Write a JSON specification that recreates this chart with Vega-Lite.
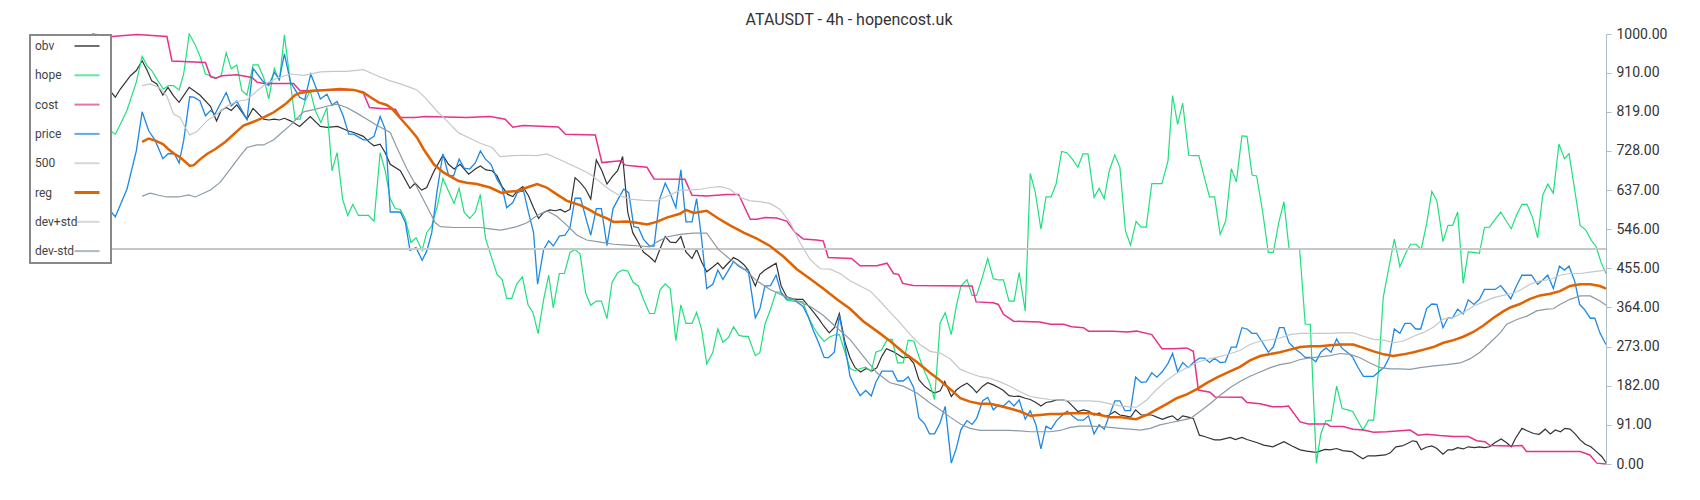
{
"$schema": "https://vega.github.io/schema/vega-lite/v6.json",
"width": 1514, "height": 430,
"autosize": {"type": "none"},
"padding": {"left": 92, "top": 34, "right": 94, "bottom": 36},
"background": "white",
"title": {"text": "ATAUSDT - 4h - hopencost.uk", "fontSize": 16, "font": "Roboto", "fontWeight": "normal", "color": "#333333", "offset": -1, "anchor": "middle"},
"config": {"view": {"stroke": null}, "font": "Roboto"},
"datasets": {
"price": [{"t":0,"v":600},{"t":2,"v":600},{"t":3.6,"v":589},{"t":4.6,"v":575},{"t":6.9,"v":639},{"t":8.75,"v":728},{"t":9.9,"v":819},{"t":11.2,"v":775},{"t":12.5,"v":752},{"t":14,"v":710},{"t":15.1,"v":722},{"t":16.3,"v":721},{"t":17.2,"v":700},{"t":18.1,"v":752},{"t":19.3,"v":854},{"t":20.1,"v":853},{"t":21.3,"v":845},{"t":22.4,"v":810},{"t":23.4,"v":822},{"t":24.3,"v":814},{"t":26.5,"v":864},{"t":27.5,"v":833},{"t":28.6,"v":844},{"t":30.6,"v":801},{"t":31.8,"v":920},{"t":33.9,"v":888},{"t":34.9,"v":880},{"t":36,"v":911},{"t":37,"v":895},{"t":38,"v":954},{"t":39.2,"v":888},{"t":41,"v":853},{"t":42,"v":847},{"t":43.2,"v":907},{"t":45.1,"v":849},{"t":46.4,"v":860},{"t":47.4,"v":835},{"t":48.4,"v":843},{"t":49.6,"v":810},{"t":50.7,"v":767},{"t":51.7,"v":767},{"t":53.6,"v":754},{"t":54.6,"v":754},{"t":55.7,"v":762},{"t":56.9,"v":808},{"t":57.9,"v":779},{"t":58.9,"v":586},{"t":60.9,"v":586},{"t":61.9,"v":561},{"t":62.8,"v":497},{"t":64,"v":503},{"t":65.2,"v":474},{"t":66.1,"v":495},{"t":67.1,"v":538},{"t":68.1,"v":631},{"t":69.3,"v":721},{"t":70.4,"v":672},{"t":71.4,"v":670},{"t":72.5,"v":709},{"t":73.5,"v":688},{"t":74.6,"v":686},{"t":75.7,"v":700},{"t":76.7,"v":728},{"t":77.7,"v":709},{"t":78.8,"v":697},{"t":80,"v":662},{"t":81,"v":643},{"t":81.9,"v":596},{"t":83.1,"v":608},{"t":84,"v":631},{"t":85.2,"v":637},{"t":86.2,"v":585},{"t":87.2,"v":538},{"t":88,"v":418},{"t":89.2,"v":499},{"t":90.2,"v":519},{"t":91.1,"v":507},{"t":92.3,"v":530},{"t":93.4,"v":532},{"t":94.4,"v":550},{"t":95.4,"v":618},{"t":96.5,"v":618},{"t":97.7,"v":565},{"t":98.5,"v":532},{"t":99.6,"v":594},{"t":100.6,"v":594},{"t":101.7,"v":508},{"t":102.9,"v":594},{"t":103.9,"v":616},{"t":105,"v":639},{"t":106,"v":631},{"t":107,"v":552},{"t":107.9,"v":550},{"t":108.9,"v":523},{"t":110.1,"v":507},{"t":111,"v":507},{"t":112.1,"v":616},{"t":113.2,"v":653},{"t":114.2,"v":629},{"t":115.3,"v":596},{"t":116.3,"v":684},{"t":117.3,"v":563},{"t":118.5,"v":563},{"t":119.4,"v":617},{"t":120.4,"v":523},{"t":121.4,"v":408},{"t":122.6,"v":418},{"t":123.6,"v":451},{"t":124.6,"v":429},{"t":125.7,"v":451},{"t":126.7,"v":471},{"t":127.7,"v":460},{"t":128.7,"v":453},{"t":129.6,"v":451},{"t":131,"v":340},{"t":131.9,"v":361},{"t":132.9,"v":414},{"t":134,"v":415},{"t":135.1,"v":439},{"t":136.1,"v":398},{"t":137.2,"v":384},{"t":138.4,"v":383},{"t":139.4,"v":375},{"t":140.4,"v":367},{"t":141.4,"v":344},{"t":142.5,"v":309},{"t":143.5,"v":282},{"t":144.6,"v":248},{"t":145.4,"v":247},{"t":146.6,"v":260},{"t":147.6,"v":346},{"t":148.7,"v":274},{"t":149.7,"v":204},{"t":150.6,"v":182},{"t":151.7,"v":159},{"t":152.8,"v":171},{"t":153.9,"v":158},{"t":154.8,"v":190},{"t":156,"v":216},{"t":156.9,"v":216},{"t":158.1,"v":216},{"t":159.1,"v":193},{"t":160.2,"v":193},{"t":161.2,"v":203},{"t":162.3,"v":177},{"t":163.3,"v":107},{"t":164.4,"v":94},{"t":165.4,"v":70},{"t":166.4,"v":70},{"t":167.5,"v":96},{"t":168.5,"v":134},{"t":169.7,"v":2},{"t":170.7,"v":37},{"t":171.6,"v":80},{"t":172.8,"v":101},{"t":173.8,"v":92},{"t":174.7,"v":106},{"t":175.9,"v":147},{"t":176.9,"v":155},{"t":178,"v":126},{"t":179,"v":137},{"t":180,"v":135},{"t":181.1,"v":147},{"t":182.1,"v":135},{"t":183.1,"v":149},{"t":184.3,"v":104},{"t":185.3,"v":124},{"t":186.4,"v":92},{"t":187.4,"v":35},{"t":188.4,"v":88},{"t":189.4,"v":81},{"t":190.5,"v":101},{"t":191.5,"v":112},{"t":192.6,"v":123},{"t":193.6,"v":112},{"t":194.7,"v":102},{"t":195.8,"v":102},{"t":196.8,"v":112},{"t":197.9,"v":70},{"t":198.9,"v":91},{"t":199.9,"v":81},{"t":200.9,"v":112},{"t":202,"v":147},{"t":203,"v":147},{"t":204,"v":124},{"t":205.1,"v":124},{"t":206.1,"v":202},{"t":207.2,"v":190},{"t":208.2,"v":191},{"t":209.3,"v":212},{"t":210.3,"v":202},{"t":211.4,"v":215},{"t":212.5,"v":234},{"t":213.4,"v":257},{"t":214.4,"v":215},{"t":215.4,"v":236},{"t":216.5,"v":224},{"t":217.5,"v":236},{"t":218.7,"v":246},{"t":219.7,"v":246},{"t":220.7,"v":236},{"t":221.7,"v":246},{"t":222.8,"v":236},{"t":223.8,"v":237},{"t":225,"v":272},{"t":226,"v":272},{"t":227.1,"v":317},{"t":228.1,"v":314},{"t":229.1,"v":304},{"t":230,"v":304},{"t":231.2,"v":282},{"t":232.3,"v":260},{"t":233.3,"v":272},{"t":234.5,"v":317},{"t":235.4,"v":317},{"t":236.4,"v":282},{"t":237.4,"v":270},{"t":238.6,"v":259},{"t":239.6,"v":248},{"t":240.6,"v":248},{"t":241.7,"v":238},{"t":242.7,"v":260},{"t":243.7,"v":270},{"t":244.7,"v":260},{"t":245.8,"v":291},{"t":246.8,"v":270},{"t":248,"v":259},{"t":249,"v":248},{"t":250,"v":225},{"t":251.1,"v":204},{"t":252.1,"v":204},{"t":253.1,"v":204},{"t":254.3,"v":216},{"t":255.2,"v":225},{"t":256.2,"v":248},{"t":257.2,"v":314},{"t":258.3,"v":304},{"t":259.3,"v":327},{"t":260.4,"v":327},{"t":261.4,"v":314},{"t":262.4,"v":314},{"t":263.6,"v":362},{"t":264.6,"v":372},{"t":265.6,"v":371},{"t":266.8,"v":317},{"t":267.8,"v":340},{"t":268.7,"v":340},{"t":269.7,"v":360},{"t":270.8,"v":349},{"t":271.8,"v":382},{"t":272.9,"v":371},{"t":274,"v":383},{"t":275,"v":406},{"t":276,"v":406},{"t":277.1,"v":406},{"t":278.2,"v":415},{"t":279.2,"v":400},{"t":280.2,"v":384},{"t":281.3,"v":414},{"t":282.4,"v":439},{"t":283.4,"v":439},{"t":284.3,"v":439},{"t":285.5,"v":418},{"t":286.5,"v":428},{"t":287.5,"v":439},{"t":288.6,"v":408},{"t":289.8,"v":460},{"t":290.8,"v":451},{"t":291.7,"v":460},{"t":292.8,"v":426},{"t":293.8,"v":371},{"t":294.7,"v":360},{"t":295.9,"v":339},{"t":296.8,"v":339},{"t":297.8,"v":305},{"t":298.8,"v":282},{"t":299,"v":278}],
"obv": [{"t":0,"v":880},{"t":2,"v":870},{"t":3.6,"v":868},{"t":4.6,"v":853},{"t":5.6,"v":872},{"t":7.6,"v":903},{"t":8.75,"v":915},{"t":9.9,"v":938},{"t":10.9,"v":915},{"t":11.8,"v":891},{"t":12.8,"v":884},{"t":14,"v":858},{"t":15,"v":876},{"t":16.1,"v":856},{"t":17.2,"v":841},{"t":19.2,"v":876},{"t":21.3,"v":858},{"t":23.4,"v":832},{"t":24.6,"v":798},{"t":25.5,"v":822},{"t":26.5,"v":829},{"t":27.5,"v":822},{"t":28.6,"v":835},{"t":30.6,"v":802},{"t":31.8,"v":827},{"t":33.9,"v":802},{"t":34.9,"v":800},{"t":36,"v":802},{"t":37,"v":800},{"t":38,"v":804},{"t":39.2,"v":798},{"t":41,"v":785},{"t":43.1,"v":808},{"t":45.1,"v":785},{"t":46.4,"v":783},{"t":48.5,"v":785},{"t":50.5,"v":775},{"t":51.7,"v":771},{"t":53.6,"v":762},{"t":54.8,"v":748},{"t":55.7,"v":740},{"t":56.9,"v":744},{"t":57.9,"v":724},{"t":58.9,"v":697},{"t":60.9,"v":682},{"t":62.8,"v":641},{"t":63.8,"v":653},{"t":65.1,"v":637},{"t":66.1,"v":643},{"t":67.5,"v":680},{"t":69.3,"v":718},{"t":70.4,"v":697},{"t":71.5,"v":686},{"t":72.7,"v":697},{"t":74.4,"v":674},{"t":75.7,"v":686},{"t":76.7,"v":693},{"t":77.8,"v":684},{"t":79,"v":682},{"t":80,"v":670},{"t":81,"v":645},{"t":82.1,"v":627},{"t":83.1,"v":622},{"t":84.1,"v":637},{"t":85.1,"v":645},{"t":86.2,"v":624},{"t":87.2,"v":596},{"t":88.2,"v":571},{"t":89.2,"v":585},{"t":90.4,"v":591},{"t":91.5,"v":589},{"t":92.5,"v":592},{"t":93.4,"v":586},{"t":94.4,"v":592},{"t":95.4,"v":666},{"t":96.4,"v":655},{"t":97.5,"v":639},{"t":98.5,"v":616},{"t":99.6,"v":707},{"t":100.7,"v":682},{"t":101.7,"v":651},{"t":102.8,"v":669},{"t":103.8,"v":682},{"t":104.8,"v":715},{"t":105.8,"v":586},{"t":106.8,"v":538},{"t":107.9,"v":515},{"t":108.9,"v":493},{"t":110.1,"v":482},{"t":111.2,"v":470},{"t":112.2,"v":501},{"t":113.2,"v":529},{"t":114.2,"v":516},{"t":115.3,"v":515},{"t":116.3,"v":529},{"t":117.3,"v":493},{"t":118.5,"v":478},{"t":119.4,"v":499},{"t":120.4,"v":470},{"t":121.4,"v":447},{"t":122.6,"v":458},{"t":123.6,"v":468},{"t":124.6,"v":454},{"t":125.7,"v":468},{"t":126.7,"v":480},{"t":127.7,"v":474},{"t":128.7,"v":464},{"t":129.6,"v":451},{"t":131,"v":414},{"t":131.9,"v":441},{"t":132.9,"v":451},{"t":134,"v":459},{"t":135.1,"v":467},{"t":136.1,"v":414},{"t":137.2,"v":389},{"t":138.4,"v":384},{"t":139.4,"v":383},{"t":140.4,"v":383},{"t":141.4,"v":369},{"t":142.5,"v":353},{"t":143.5,"v":338},{"t":144.5,"v":321},{"t":145.6,"v":305},{"t":146.6,"v":317},{"t":147.6,"v":350},{"t":148.7,"v":283},{"t":149.7,"v":247},{"t":150.7,"v":224},{"t":151.8,"v":214},{"t":152.9,"v":222},{"t":154,"v":216},{"t":155,"v":224},{"t":156,"v":251},{"t":156.9,"v":268},{"t":158.1,"v":262},{"t":159.1,"v":255},{"t":160.2,"v":247},{"t":161.2,"v":249},{"t":162.3,"v":234},{"t":163.3,"v":196},{"t":164.4,"v":181},{"t":165.4,"v":172},{"t":166.4,"v":165},{"t":167.5,"v":170},{"t":168.4,"v":192},{"t":169.7,"v":157},{"t":170.7,"v":172},{"t":171.6,"v":180},{"t":172.8,"v":188},{"t":173.8,"v":178},{"t":174.7,"v":166},{"t":175.9,"v":181},{"t":176.9,"v":189},{"t":178,"v":184},{"t":179,"v":178},{"t":180,"v":171},{"t":181.1,"v":159},{"t":182.1,"v":157},{"t":183.1,"v":158},{"t":184.3,"v":153},{"t":185.3,"v":150},{"t":186.4,"v":143},{"t":187.4,"v":135},{"t":188.4,"v":143},{"t":189.4,"v":145},{"t":190.5,"v":149},{"t":191.5,"v":149},{"t":192.6,"v":147},{"t":193.6,"v":135},{"t":194.7,"v":122},{"t":195.8,"v":126},{"t":196.8,"v":123},{"t":197.9,"v":114},{"t":198.9,"v":119},{"t":199.9,"v":110},{"t":200.9,"v":114},{"t":202,"v":122},{"t":203,"v":114},{"t":204,"v":112},{"t":205.1,"v":109},{"t":206.1,"v":126},{"t":207.2,"v":114},{"t":208.2,"v":114},{"t":209.3,"v":114},{"t":210.3,"v":109},{"t":211.4,"v":104},{"t":212.5,"v":109},{"t":213.4,"v":112},{"t":214.4,"v":102},{"t":215.4,"v":112},{"t":216.5,"v":109},{"t":217.5,"v":106},{"t":218.7,"v":67},{"t":219.7,"v":64},{"t":220.7,"v":60},{"t":221.7,"v":56},{"t":222.8,"v":56},{"t":224.8,"v":62},{"t":225.8,"v":57},{"t":227.1,"v":62},{"t":228.1,"v":57},{"t":230,"v":50},{"t":231.4,"v":44},{"t":233.2,"v":40},{"t":235.4,"v":52},{"t":237,"v":42},{"t":238.6,"v":33},{"t":239.9,"v":30},{"t":241.8,"v":27},{"t":243.5,"v":34},{"t":244.5,"v":33},{"t":245.8,"v":36},{"t":247,"v":31},{"t":248.8,"v":29},{"t":249.8,"v":21},{"t":251,"v":12},{"t":252,"v":19},{"t":253.4,"v":19},{"t":255.4,"v":21},{"t":256.4,"v":26},{"t":257.5,"v":40},{"t":258.7,"v":42},{"t":259.7,"v":47},{"t":260.8,"v":54},{"t":261.6,"v":52},{"t":262.5,"v":33},{"t":263.5,"v":39},{"t":264.6,"v":42},{"t":265.6,"v":36},{"t":266.8,"v":23},{"t":267.8,"v":33},{"t":268.7,"v":33},{"t":269.7,"v":38},{"t":270.8,"v":35},{"t":271.8,"v":40},{"t":273,"v":38},{"t":274,"v":40},{"t":275,"v":38},{"t":276,"v":40},{"t":277.1,"v":50},{"t":278.3,"v":58},{"t":279.3,"v":50},{"t":280.3,"v":40},{"t":281.2,"v":61},{"t":282.4,"v":83},{"t":283.3,"v":78},{"t":284.7,"v":71},{"t":285.8,"v":69},{"t":287,"v":81},{"t":288,"v":70},{"t":289,"v":79},{"t":290,"v":75},{"t":290.9,"v":83},{"t":291.9,"v":81},{"t":292.9,"v":70},{"t":293.9,"v":56},{"t":294.9,"v":46},{"t":296,"v":40},{"t":297,"v":30},{"t":298.2,"v":17},{"t":299,"v":3}],
"hope": [{"t":0,"v":770},{"t":2,"v":770},{"t":3.6,"v":775},{"t":4.6,"v":767},{"t":5.6,"v":790},{"t":6.9,"v":822},{"t":8.75,"v":888},{"t":9.9,"v":948},{"t":10.9,"v":926},{"t":11.8,"v":915},{"t":12.8,"v":895},{"t":14.1,"v":872},{"t":15.1,"v":880},{"t":16.1,"v":880},{"t":17.2,"v":870},{"t":18.1,"v":907},{"t":19.2,"v":1000},{"t":20.3,"v":977},{"t":21.4,"v":946},{"t":22.4,"v":907},{"t":23.4,"v":903},{"t":24.5,"v":897},{"t":25.5,"v":903},{"t":26.5,"v":956},{"t":27.5,"v":919},{"t":28.6,"v":928},{"t":29.6,"v":868},{"t":30.6,"v":858},{"t":31.8,"v":928},{"t":32.8,"v":928},{"t":33.9,"v":899},{"t":34.9,"v":849},{"t":36,"v":920},{"t":37,"v":891},{"t":38,"v":998},{"t":39,"v":903},{"t":40.1,"v":802},{"t":41.1,"v":802},{"t":42.1,"v":845},{"t":43.1,"v":868},{"t":44.1,"v":822},{"t":45.2,"v":794},{"t":46.4,"v":829},{"t":47.4,"v":682},{"t":48.4,"v":724},{"t":49.5,"v":616},{"t":50.5,"v":578},{"t":51.5,"v":604},{"t":52.6,"v":578},{"t":54.6,"v":578},{"t":55.7,"v":565},{"t":56.9,"v":724},{"t":57.9,"v":682},{"t":58.9,"v":616},{"t":59.9,"v":594},{"t":60.9,"v":592},{"t":61.9,"v":569},{"t":63,"v":515},{"t":64,"v":526},{"t":65.2,"v":497},{"t":66.1,"v":538},{"t":67.1,"v":554},{"t":68.2,"v":600},{"t":69.3,"v":664},{"t":70.4,"v":635},{"t":71.5,"v":606},{"t":72.5,"v":641},{"t":73.5,"v":585},{"t":74.6,"v":571},{"t":75.7,"v":586},{"t":76.7,"v":627},{"t":77.7,"v":526},{"t":78.8,"v":484},{"t":80,"v":441},{"t":81,"v":429},{"t":81.9,"v":385},{"t":82.9,"v":385},{"t":83.9,"v":419},{"t":85,"v":435},{"t":86.1,"v":371},{"t":87.1,"v":352},{"t":88.1,"v":303},{"t":89.2,"v":383},{"t":90.2,"v":439},{"t":91.1,"v":363},{"t":92.3,"v":443},{"t":93.3,"v":443},{"t":94.4,"v":492},{"t":95.4,"v":499},{"t":96.4,"v":488},{"t":97.5,"v":397},{"t":98.5,"v":369},{"t":99.6,"v":379},{"t":100.6,"v":379},{"t":101.7,"v":338},{"t":102.7,"v":422},{"t":103.8,"v":445},{"t":104.8,"v":451},{"t":105.8,"v":449},{"t":106.9,"v":422},{"t":107.9,"v":414},{"t":108.9,"v":383},{"t":110.1,"v":350},{"t":111.1,"v":350},{"t":112.2,"v":405},{"t":113.2,"v":419},{"t":114.2,"v":408},{"t":115.3,"v":287},{"t":116.3,"v":370},{"t":117.3,"v":327},{"t":118.5,"v":327},{"t":119.4,"v":353},{"t":120.4,"v":313},{"t":121.4,"v":233},{"t":122.6,"v":259},{"t":123.6,"v":314},{"t":124.6,"v":283},{"t":125.7,"v":294},{"t":126.7,"v":319},{"t":127.8,"v":299},{"t":128.7,"v":297},{"t":129.6,"v":297},{"t":131,"v":252},{"t":131.9,"v":259},{"t":132.9,"v":325},{"t":134,"v":360},{"t":135.1,"v":400},{"t":136.1,"v":400},{"t":137.2,"v":381},{"t":138.4,"v":379},{"t":139.4,"v":379},{"t":140.4,"v":377},{"t":141.4,"v":344},{"t":142.5,"v":318},{"t":143.5,"v":300},{"t":144.6,"v":285},{"t":145.6,"v":295},{"t":146.6,"v":300},{"t":147.6,"v":301},{"t":148.7,"v":260},{"t":149.7,"v":222},{"t":150.7,"v":217},{"t":151.8,"v":222},{"t":152.8,"v":225},{"t":153.9,"v":215},{"t":154.8,"v":260},{"t":155.9,"v":265},{"t":157,"v":288},{"t":158,"v":290},{"t":159.1,"v":235},{"t":160.2,"v":235},{"t":161.2,"v":288},{"t":162.3,"v":286},{"t":163.3,"v":250},{"t":164.4,"v":216},{"t":165.4,"v":189},{"t":166.4,"v":150},{"t":167.5,"v":328},{"t":168.5,"v":352},{"t":169.7,"v":301},{"t":170.7,"v":367},{"t":171.6,"v":414},{"t":172.8,"v":429},{"t":173.8,"v":392},{"t":174.7,"v":392},{"t":175.9,"v":437},{"t":176.9,"v":478},{"t":178,"v":431},{"t":179,"v":428},{"t":180,"v":428},{"t":181.1,"v":379},{"t":182.1,"v":379},{"t":183.1,"v":445},{"t":184.3,"v":356},{"t":185.3,"v":676},{"t":186.3,"v":631},{"t":187.4,"v":546},{"t":188.4,"v":621},{"t":189.4,"v":621},{"t":190.4,"v":651},{"t":191.5,"v":727},{"t":192.5,"v":724},{"t":193.6,"v":709},{"t":194.7,"v":690},{"t":195.7,"v":721},{"t":196.7,"v":721},{"t":197.9,"v":620},{"t":198.9,"v":641},{"t":199.9,"v":617},{"t":200.9,"v":682},{"t":202,"v":719},{"t":203,"v":690},{"t":204.1,"v":542},{"t":205.1,"v":509},{"t":206.2,"v":564},{"t":207.2,"v":551},{"t":208.2,"v":551},{"t":209.3,"v":652},{"t":210.3,"v":652},{"t":211.3,"v":652},{"t":212.5,"v":705},{"t":213.4,"v":857},{"t":214.4,"v":790},{"t":215.4,"v":839},{"t":216.6,"v":718},{"t":217.5,"v":717},{"t":218.6,"v":717},{"t":219.6,"v":670},{"t":220.7,"v":621},{"t":221.7,"v":621},{"t":222.8,"v":534},{"t":223.9,"v":565},{"t":225,"v":687},{"t":226,"v":656},{"t":227.1,"v":763},{"t":228.1,"v":762},{"t":229.1,"v":672},{"t":230,"v":670},{"t":231.2,"v":586},{"t":232.3,"v":492},{"t":233.3,"v":492},{"t":234.4,"v":563},{"t":235.4,"v":610},{"t":236.4,"v":501},{"t":237.4,"v":501},{"t":238.5,"v":499},{"t":239.6,"v":325},{"t":240.6,"v":325},{"t":241.8,"v":2},{"t":242.7,"v":71},{"t":243.7,"v":101},{"t":244.7,"v":101},{"t":245.8,"v":181},{"t":246.9,"v":129},{"t":248,"v":126},{"t":249,"v":122},{"t":250,"v":100},{"t":251,"v":79},{"t":252.1,"v":102},{"t":253.1,"v":102},{"t":254.1,"v":220},{"t":255,"v":387},{"t":256,"v":449},{"t":257.2,"v":523},{"t":258.3,"v":459},{"t":259.5,"v":492},{"t":260.4,"v":511},{"t":261.5,"v":511},{"t":262.5,"v":499},{"t":263.6,"v":560},{"t":264.6,"v":634},{"t":265.6,"v":612},{"t":266.8,"v":517},{"t":267.8,"v":555},{"t":268.7,"v":555},{"t":269.7,"v":586},{"t":270.8,"v":420},{"t":271.8,"v":493},{"t":272.9,"v":492},{"t":274,"v":490},{"t":275,"v":550},{"t":276,"v":551},{"t":277.1,"v":569},{"t":278.2,"v":586},{"t":279.3,"v":565},{"t":280.3,"v":547},{"t":281.3,"v":578},{"t":282.4,"v":604},{"t":283.4,"v":604},{"t":284.5,"v":573},{"t":285.5,"v":526},{"t":286.5,"v":625},{"t":287.5,"v":651},{"t":288.6,"v":630},{"t":289.7,"v":744},{"t":290.8,"v":710},{"t":291.7,"v":722},{"t":292.8,"v":639},{"t":293.9,"v":555},{"t":295,"v":544},{"t":296.1,"v":520},{"t":297,"v":507},{"t":298,"v":470},{"t":299,"v":443}],
"cost": [{"t":0,"v":1000},{"t":3.95,"v":994},{"t":8.9,"v":999},{"t":14.8,"v":994},{"t":15.8,"v":937},{"t":22.4,"v":934},{"t":23.4,"v":901},{"t":24.4,"v":897},{"t":25.7,"v":903},{"t":28.6,"v":905},{"t":31.6,"v":899},{"t":32.6,"v":888},{"t":33.9,"v":885},{"t":39.8,"v":885},{"t":41.1,"v":868},{"t":47.7,"v":870},{"t":51.7,"v":870},{"t":53.6,"v":863},{"t":54.8,"v":829},{"t":57,"v":827},{"t":59.9,"v":825},{"t":60.9,"v":806},{"t":63.8,"v":806},{"t":65.8,"v":808},{"t":74,"v":806},{"t":78.6,"v":808},{"t":81.6,"v":802},{"t":83.1,"v":783},{"t":85.2,"v":787},{"t":92.1,"v":784},{"t":93.5,"v":767},{"t":99.4,"v":765},{"t":100.7,"v":701},{"t":104.4,"v":705},{"t":105.3,"v":695},{"t":106.9,"v":693},{"t":109.6,"v":690},{"t":111,"v":663},{"t":117.1,"v":662},{"t":118.5,"v":625},{"t":121.4,"v":623},{"t":125.4,"v":627},{"t":127.7,"v":627},{"t":130,"v":569},{"t":131.3,"v":569},{"t":132.9,"v":573},{"t":135.2,"v":572},{"t":137.2,"v":565},{"t":138.9,"v":538},{"t":140.5,"v":523},{"t":143.1,"v":521},{"t":144.4,"v":519},{"t":145.4,"v":480},{"t":150,"v":478},{"t":151.7,"v":461},{"t":155,"v":461},{"t":157,"v":467},{"t":158.3,"v":443},{"t":159.3,"v":441},{"t":160.1,"v":420},{"t":162.2,"v":415},{"t":173.8,"v":414},{"t":174.6,"v":377},{"t":178,"v":375},{"t":179,"v":371},{"t":180,"v":348},{"t":182,"v":332},{"t":187.2,"v":330},{"t":189.3,"v":325},{"t":191.9,"v":325},{"t":193.5,"v":319},{"t":195.8,"v":317},{"t":196.8,"v":309},{"t":201.7,"v":309},{"t":204.4,"v":307},{"t":206.3,"v":309},{"t":209.3,"v":301},{"t":211.3,"v":268},{"t":213.6,"v":268},{"t":216.2,"v":270},{"t":217.5,"v":262},{"t":218.5,"v":172},{"t":220.8,"v":167},{"t":221.8,"v":156},{"t":227.1,"v":155},{"t":228.1,"v":143},{"t":230.7,"v":140},{"t":233.2,"v":133},{"t":235,"v":133},{"t":236.3,"v":135},{"t":238.6,"v":98},{"t":240.2,"v":93},{"t":243.9,"v":93},{"t":244.5,"v":88},{"t":247.1,"v":87},{"t":249.1,"v":81},{"t":251.1,"v":79},{"t":253.1,"v":74},{"t":255.7,"v":75},{"t":260.3,"v":79},{"t":261.9,"v":67},{"t":263.6,"v":69},{"t":266.2,"v":66},{"t":268.9,"v":64},{"t":271.8,"v":64},{"t":273.5,"v":54},{"t":275.1,"v":52},{"t":276.1,"v":43},{"t":280.1,"v":42},{"t":282.4,"v":43},{"t":283.3,"v":29},{"t":293.9,"v":29},{"t":295.8,"v":21},{"t":297.2,"v":2},{"t":299,"v":0}],
"reg": [{"t":9.9,"v":749},{"t":11.2,"v":757},{"t":12.5,"v":752},{"t":14,"v":744},{"t":15.1,"v":732},{"t":16.3,"v":721},{"t":17.2,"v":715},{"t":18.4,"v":703},{"t":19.3,"v":693},{"t":20.1,"v":695},{"t":21.4,"v":709},{"t":22.7,"v":721},{"t":24.3,"v":732},{"t":26.3,"v":749},{"t":28,"v":767},{"t":29.9,"v":787},{"t":31.9,"v":796},{"t":33.9,"v":806},{"t":35.9,"v":818},{"t":38.2,"v":837},{"t":40.1,"v":858},{"t":41.1,"v":863},{"t":43.8,"v":868},{"t":46.4,"v":870},{"t":49,"v":872},{"t":51.7,"v":870},{"t":53.6,"v":864},{"t":55,"v":853},{"t":56.6,"v":841},{"t":58.2,"v":835},{"t":59.2,"v":827},{"t":60.9,"v":804},{"t":62.8,"v":779},{"t":64.2,"v":759},{"t":65.5,"v":732},{"t":67.5,"v":697},{"t":69.4,"v":678},{"t":72.4,"v":658},{"t":74,"v":654},{"t":76,"v":651},{"t":78.6,"v":643},{"t":81,"v":630},{"t":82,"v":633},{"t":83.9,"v":635},{"t":85.9,"v":643},{"t":87.9,"v":651},{"t":89.8,"v":643},{"t":91.8,"v":627},{"t":93.8,"v":612},{"t":96.4,"v":602},{"t":98.1,"v":592},{"t":99.7,"v":581},{"t":101.7,"v":571},{"t":103,"v":563},{"t":105.6,"v":564},{"t":107.6,"v":561},{"t":109.6,"v":557},{"t":111.5,"v":563},{"t":113.5,"v":573},{"t":116.1,"v":582},{"t":117.3,"v":591},{"t":118.8,"v":584},{"t":121.4,"v":589},{"t":123.7,"v":571},{"t":126,"v":555},{"t":128.7,"v":538},{"t":131.3,"v":524},{"t":133.9,"v":507},{"t":136.6,"v":482},{"t":139.2,"v":453},{"t":141.8,"v":431},{"t":144.4,"v":408},{"t":147.1,"v":383},{"t":149.7,"v":361},{"t":152.3,"v":332},{"t":155,"v":309},{"t":157.6,"v":286},{"t":160.2,"v":260},{"t":162.9,"v":237},{"t":165.5,"v":212},{"t":167.5,"v":194},{"t":169.5,"v":174},{"t":171.5,"v":153},{"t":173.4,"v":145},{"t":175.4,"v":140},{"t":177.4,"v":140},{"t":179.3,"v":135},{"t":181.3,"v":129},{"t":183.3,"v":122},{"t":185.3,"v":112},{"t":187.2,"v":114},{"t":189.2,"v":116},{"t":191.2,"v":116},{"t":193.2,"v":118},{"t":195.1,"v":118},{"t":197.1,"v":118},{"t":199.1,"v":114},{"t":201.1,"v":109},{"t":203,"v":109},{"t":205,"v":106},{"t":206.2,"v":104},{"t":208.3,"v":114},{"t":210.3,"v":127},{"t":212.3,"v":140},{"t":214.2,"v":153},{"t":216.2,"v":162},{"t":218.2,"v":174},{"t":220.1,"v":188},{"t":222.1,"v":201},{"t":224.1,"v":212},{"t":226.7,"v":226},{"t":228.7,"v":241},{"t":230.7,"v":251},{"t":232.7,"v":256},{"t":234.6,"v":260},{"t":236.6,"v":266},{"t":238.6,"v":272},{"t":240.6,"v":274},{"t":242.5,"v":274},{"t":244.5,"v":276},{"t":246.5,"v":278},{"t":249.1,"v":278},{"t":251.1,"v":270},{"t":253.1,"v":262},{"t":255.1,"v":255},{"t":257,"v":251},{"t":259,"v":255},{"t":261,"v":260},{"t":263,"v":266},{"t":264.9,"v":272},{"t":266.9,"v":282},{"t":268.9,"v":288},{"t":270.8,"v":296},{"t":272.8,"v":307},{"t":274.8,"v":322},{"t":276.8,"v":340},{"t":278.7,"v":355},{"t":280.1,"v":364},{"t":282,"v":372},{"t":284,"v":384},{"t":286,"v":392},{"t":288,"v":396},{"t":289.9,"v":402},{"t":291.9,"v":414},{"t":293.9,"v":418},{"t":295.9,"v":418},{"t":297.8,"v":414},{"t":299,"v":408}],
"devp": [{"t":9.9,"v":880},{"t":11.5,"v":884},{"t":13.2,"v":876},{"t":14.8,"v":855},{"t":16.1,"v":814},{"t":17.4,"v":806},{"t":18.4,"v":783},{"t":19.3,"v":765},{"t":20.7,"v":773},{"t":22.7,"v":798},{"t":24.7,"v":814},{"t":26.6,"v":832},{"t":28.6,"v":843},{"t":30.6,"v":847},{"t":32.6,"v":868},{"t":34.6,"v":886},{"t":36.5,"v":897},{"t":39.2,"v":907},{"t":41.8,"v":904},{"t":45.1,"v":912},{"t":47.7,"v":913},{"t":50.3,"v":913},{"t":53.6,"v":917},{"t":56.3,"v":903},{"t":58.9,"v":891},{"t":60.9,"v":884},{"t":62.8,"v":876},{"t":64.2,"v":870},{"t":66.1,"v":848},{"t":68.1,"v":821},{"t":70.1,"v":798},{"t":72.4,"v":770},{"t":74.7,"v":757},{"t":76.7,"v":746},{"t":79,"v":736},{"t":80.6,"v":715},{"t":83.2,"v":717},{"t":85.2,"v":718},{"t":87.9,"v":717},{"t":89.8,"v":721},{"t":91.8,"v":711},{"t":93.8,"v":700},{"t":96.4,"v":686},{"t":98.4,"v":674},{"t":100.4,"v":655},{"t":102.3,"v":637},{"t":104.3,"v":624},{"t":106.3,"v":616},{"t":108.9,"v":613},{"t":111.5,"v":612},{"t":113.5,"v":622},{"t":116.2,"v":637},{"t":118.1,"v":637},{"t":120.1,"v":639},{"t":122.1,"v":643},{"t":124.1,"v":645},{"t":126,"v":639},{"t":128,"v":620},{"t":130,"v":612},{"t":131.9,"v":610},{"t":133.9,"v":606},{"t":135.9,"v":592},{"t":137.9,"v":561},{"t":139.8,"v":515},{"t":141.8,"v":476},{"t":143.8,"v":454},{"t":145.8,"v":453},{"t":147.7,"v":443},{"t":149.7,"v":426},{"t":151.7,"v":414},{"t":153.7,"v":402},{"t":155.6,"v":379},{"t":157.6,"v":353},{"t":159.6,"v":328},{"t":161.6,"v":301},{"t":163.5,"v":278},{"t":165.5,"v":262},{"t":167.5,"v":258},{"t":169.5,"v":244},{"t":171.5,"v":220},{"t":173.4,"v":211},{"t":175.4,"v":203},{"t":177.4,"v":199},{"t":179.3,"v":191},{"t":181.3,"v":181},{"t":183.3,"v":168},{"t":185.3,"v":157},{"t":187.2,"v":153},{"t":189.2,"v":150},{"t":191.2,"v":149},{"t":193.2,"v":147},{"t":195.1,"v":147},{"t":197.1,"v":147},{"t":199.1,"v":145},{"t":201.1,"v":140},{"t":203,"v":135},{"t":205,"v":133},{"t":206.3,"v":132},{"t":208.3,"v":149},{"t":210.3,"v":174},{"t":212.3,"v":195},{"t":214.2,"v":211},{"t":216.2,"v":224},{"t":218.2,"v":236},{"t":220.1,"v":243},{"t":222.1,"v":248},{"t":224.1,"v":254},{"t":226.7,"v":264},{"t":228.7,"v":278},{"t":230.7,"v":286},{"t":232.7,"v":289},{"t":234.6,"v":293},{"t":236.6,"v":301},{"t":238.6,"v":304},{"t":240.6,"v":304},{"t":242.5,"v":304},{"t":244.5,"v":304},{"t":246.5,"v":305},{"t":249.1,"v":305},{"t":251.1,"v":297},{"t":253.1,"v":290},{"t":255.1,"v":288},{"t":257,"v":282},{"t":259,"v":286},{"t":261,"v":297},{"t":263,"v":306},{"t":264.9,"v":318},{"t":266.9,"v":337},{"t":268.9,"v":341},{"t":270.8,"v":352},{"t":272.8,"v":367},{"t":274.8,"v":377},{"t":276.8,"v":387},{"t":278.7,"v":392},{"t":280.7,"v":397},{"t":282,"v":404},{"t":284,"v":418},{"t":286,"v":426},{"t":288,"v":429},{"t":289.9,"v":439},{"t":291.9,"v":443},{"t":293.9,"v":443},{"t":295.9,"v":446},{"t":297.8,"v":449},{"t":299,"v":451}],
"devm": [{"t":9.9,"v":623},{"t":11.5,"v":630},{"t":13.2,"v":625},{"t":14.8,"v":621},{"t":17.1,"v":621},{"t":19.1,"v":626},{"t":20.4,"v":621},{"t":23.4,"v":637},{"t":25.3,"v":655},{"t":27.3,"v":686},{"t":29.3,"v":717},{"t":30.6,"v":736},{"t":32.6,"v":742},{"t":33.9,"v":742},{"t":35.9,"v":754},{"t":37.5,"v":771},{"t":39.2,"v":788},{"t":40.5,"v":804},{"t":41.8,"v":819},{"t":43.8,"v":824},{"t":46.4,"v":832},{"t":48.4,"v":837},{"t":50.3,"v":829},{"t":52.3,"v":816},{"t":54.3,"v":802},{"t":56.3,"v":787},{"t":58.9,"v":771},{"t":60.2,"v":736},{"t":62.2,"v":686},{"t":64.2,"v":643},{"t":66.1,"v":600},{"t":67.8,"v":561},{"t":68.8,"v":552},{"t":71.4,"v":550},{"t":74,"v":550},{"t":76.7,"v":550},{"t":78.6,"v":547},{"t":80.6,"v":544},{"t":82,"v":547},{"t":83.9,"v":552},{"t":85.9,"v":561},{"t":87.9,"v":578},{"t":89.8,"v":589},{"t":91.8,"v":576},{"t":93.8,"v":555},{"t":95.8,"v":532},{"t":97.7,"v":521},{"t":100.4,"v":516},{"t":103,"v":511},{"t":105.6,"v":509},{"t":108.3,"v":507},{"t":110.2,"v":505},{"t":111.5,"v":516},{"t":113.5,"v":528},{"t":116.1,"v":534},{"t":118.8,"v":537},{"t":121.4,"v":537},{"t":123.7,"v":499},{"t":126,"v":476},{"t":128.7,"v":454},{"t":131.3,"v":426},{"t":133.9,"v":406},{"t":136.6,"v":391},{"t":139.2,"v":379},{"t":141.8,"v":367},{"t":144.4,"v":346},{"t":147.1,"v":317},{"t":149.7,"v":290},{"t":152.3,"v":251},{"t":155,"v":212},{"t":157.6,"v":189},{"t":160.2,"v":181},{"t":162.9,"v":165},{"t":165.5,"v":142},{"t":167.5,"v":126},{"t":169.5,"v":109},{"t":171.5,"v":93},{"t":173.4,"v":83},{"t":175.4,"v":78},{"t":177.4,"v":78},{"t":179.3,"v":78},{"t":181.3,"v":78},{"t":183.3,"v":77},{"t":185.3,"v":75},{"t":187.2,"v":75},{"t":189.2,"v":75},{"t":191.2,"v":78},{"t":193.2,"v":85},{"t":195.1,"v":88},{"t":197.1,"v":88},{"t":199.1,"v":87},{"t":201.1,"v":85},{"t":203,"v":83},{"t":205,"v":81},{"t":207,"v":79},{"t":209,"v":83},{"t":210.9,"v":91},{"t":212.9,"v":96},{"t":214.9,"v":101},{"t":216.9,"v":106},{"t":218.8,"v":122},{"t":220.8,"v":140},{"t":222.8,"v":160},{"t":224.8,"v":178},{"t":226.7,"v":192},{"t":228.7,"v":204},{"t":230.7,"v":214},{"t":232.7,"v":224},{"t":234.6,"v":231},{"t":236.6,"v":235},{"t":238.6,"v":243},{"t":240.6,"v":247},{"t":242.5,"v":249},{"t":244.5,"v":252},{"t":246.5,"v":257},{"t":248.5,"v":255},{"t":250.4,"v":247},{"t":252.4,"v":235},{"t":254.4,"v":224},{"t":256.4,"v":221},{"t":258.3,"v":221},{"t":260.3,"v":220},{"t":262.3,"v":224},{"t":265,"v":228},{"t":267.6,"v":231},{"t":270.2,"v":235},{"t":272.2,"v":245},{"t":274.1,"v":260},{"t":276.1,"v":282},{"t":278.1,"v":305},{"t":279.4,"v":325},{"t":281.4,"v":336},{"t":283.4,"v":344},{"t":285.3,"v":356},{"t":287.3,"v":360},{"t":288.6,"v":361},{"t":289.9,"v":371},{"t":291.9,"v":383},{"t":293.9,"v":391},{"t":295.9,"v":391},{"t":297.8,"v":379},{"t":299,"v":369}],
"fivehundred": [{"t":0,"v":500},{"t":299,"v":500}]
},
"encoding": {
  "x": {"field": "t", "type": "quantitative", "scale": {"domain": [0, 299], "nice": false, "zero": false}, "axis": null},
  "y": {"field": "v", "type": "quantitative", "scale": {"domain": [0, 1000], "nice": false}, "axis": {"orient": "right", "title": null, "grid": false, "values": [0, 91, 182, 273, 364, 455, 546, 637, 728, 819, 910, 1000], "format": ".2f", "domainColor": "#b0bec5", "tickColor": "#b0bec5", "tickSize": 5, "labelPadding": 5, "labelFontSize": 14, "labelFont": "Roboto", "labelColor": "#333333"}}
},
"layer": [
  {"data": {"name": "obv"}, "mark": {"type": "line", "strokeWidth": 1.2},
   "encoding": {"color": {"datum": "obv", "type": "nominal",
     "scale": {"domain": ["obv", "hope", "cost", "price", "500", "reg", "dev+std", "dev-std"], "range": ["#333333", "#1fe07c", "#e8308c", "#1e88e5", "#c8c8c8", "#e06200", "#c3c8cc", "#8c9aa5"]},
     "legend": {"orient": "none", "legendX": -62, "legendY": 1, "title": null, "fillColor": "white", "strokeColor": "#888888", "padding": 5, "symbolType": "stroke", "symbolSize": 625, "symbolStrokeWidth": 2, "symbolOpacity": 0.7, "labelFontSize": 12, "labelFont": "Roboto", "labelColor": "#444444", "rowPadding": 17.3, "symbolOffset": 46, "labelOffset": -58,
       "encode": {"legend": {"update": {"strokeWidth": {"value": 2}}}, "symbols": {"update": {"strokeWidth": {"signal": "datum.value === 'reg' ? 3 : 2"}, "opacity": {"signal": "datum.value === 'reg' ? 1 : 0.7"}}}}}}}},
  {"data": {"name": "hope"}, "mark": {"type": "line", "strokeWidth": 1.2}, "encoding": {"color": {"datum": "hope", "type": "nominal"}}},
  {"data": {"name": "cost"}, "mark": {"type": "line", "strokeWidth": 1.5}, "encoding": {"color": {"datum": "cost", "type": "nominal"}}},
  {"data": {"name": "price"}, "mark": {"type": "line", "strokeWidth": 1.3}, "encoding": {"color": {"datum": "price", "type": "nominal"}}},
  {"data": {"name": "fivehundred"}, "mark": {"type": "line", "strokeWidth": 2}, "encoding": {"color": {"datum": "500", "type": "nominal"}}},
  {"data": {"name": "reg"}, "mark": {"type": "line", "strokeWidth": 2.5}, "encoding": {"color": {"datum": "reg", "type": "nominal"}}},
  {"data": {"name": "devp"}, "mark": {"type": "line", "strokeWidth": 1.2}, "encoding": {"color": {"datum": "dev+std", "type": "nominal"}}},
  {"data": {"name": "devm"}, "mark": {"type": "line", "strokeWidth": 1.2}, "encoding": {"color": {"datum": "dev-std", "type": "nominal"}}}
]
}
